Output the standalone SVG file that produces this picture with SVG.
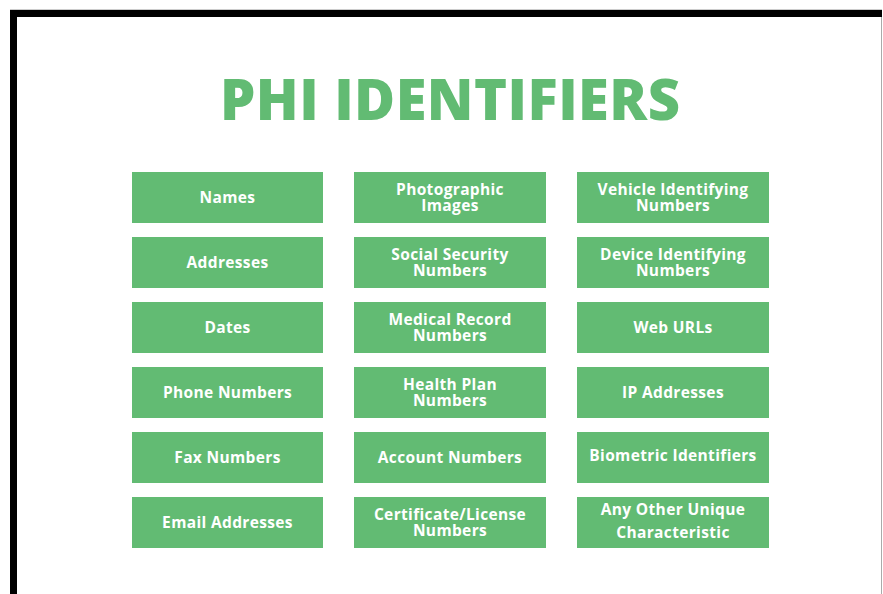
<svg xmlns="http://www.w3.org/2000/svg" width="883" height="594" viewBox="0 0 883 594">
<style>
.box{fill:#62bb73}
.t{font-family:"Open Sans","Liberation Sans",sans-serif;font-weight:700;font-size:15.5px;letter-spacing:0.35px;fill:#ffffff;text-anchor:middle}
.title{font-family:"Open Sans","Liberation Sans",sans-serif;font-weight:800;font-size:56px;fill:#62bb73;text-anchor:middle}
</style>
<rect x="0" y="0" width="883" height="594" fill="#ffffff"/>
<line x1="10" y1="9.5" x2="882" y2="9.5" stroke="#cccccc" stroke-width="1"/>
<rect x="10" y="10" width="872" height="7" fill="#000000"/>
<rect x="10" y="10" width="7" height="584" fill="#000000"/>
<line x1="881.5" y1="17" x2="881.5" y2="594" stroke="#aaaaaa" stroke-width="1"/>
<text class="title" x="450" y="120" textLength="460">PHI IDENTIFIERS</text>
<g id="names"><rect class="box" x="132" y="172" width="191" height="51"/><text class="t" x="227.5" y="203">Names</text></g>
<g id="addresses"><rect class="box" x="132" y="237" width="191" height="51"/><text class="t" x="227.5" y="268">Addresses</text></g>
<g id="dates"><rect class="box" x="132" y="302" width="191" height="51"/><text class="t" x="227.5" y="333">Dates</text></g>
<g id="phone"><rect class="box" x="132" y="367" width="191" height="51"/><text class="t" x="227.5" y="398">Phone Numbers</text></g>
<g id="fax"><rect class="box" x="132" y="432" width="191" height="51"/><text class="t" x="227.5" y="463">Fax Numbers</text></g>
<g id="email"><rect class="box" x="132" y="497" width="191" height="51"/><text class="t" x="227.5" y="528">Email Addresses</text></g>
<g id="photo"><rect class="box" x="354" y="172" width="192" height="51"/><text class="t"><tspan x="450" y="195">Photographic</tspan><tspan x="450" y="211">Images</tspan></text></g>
<g id="ssn"><rect class="box" x="354" y="237" width="192" height="51"/><text class="t"><tspan x="450" y="260">Social Security</tspan><tspan x="450" y="276">Numbers</tspan></text></g>
<g id="mrn"><rect class="box" x="354" y="302" width="192" height="51"/><text class="t"><tspan x="450" y="325">Medical Record</tspan><tspan x="450" y="341">Numbers</tspan></text></g>
<g id="health"><rect class="box" x="354" y="367" width="192" height="51"/><text class="t"><tspan x="450" y="390">Health Plan</tspan><tspan x="450" y="406">Numbers</tspan></text></g>
<g id="account"><rect class="box" x="354" y="432" width="192" height="51"/><text class="t" x="450" y="463">Account Numbers</text></g>
<g id="cert"><rect class="box" x="354" y="497" width="192" height="51"/><text class="t"><tspan x="450" y="520">Certificate/License</tspan><tspan x="450" y="536">Numbers</tspan></text></g>
<g id="vehicle"><rect class="box" x="577" y="172" width="192" height="51"/><text class="t"><tspan x="673" y="195">Vehicle Identifying</tspan><tspan x="673" y="211">Numbers</tspan></text></g>
<g id="device"><rect class="box" x="577" y="237" width="192" height="51"/><text class="t"><tspan x="673" y="260">Device Identifying</tspan><tspan x="673" y="276">Numbers</tspan></text></g>
<g id="web"><rect class="box" x="577" y="302" width="192" height="51"/><text class="t" x="673" y="333">Web URLs</text></g>
<g id="ip"><rect class="box" x="577" y="367" width="192" height="51"/><text class="t" x="673" y="398">IP Addresses</text></g>
<g id="bio"><rect class="box" x="577" y="432" width="192" height="51"/><text class="t" x="673" y="461">Biometric Identifiers</text></g>
<g id="other"><rect class="box" x="577" y="497" width="192" height="51"/><text class="t"><tspan x="673" y="515">Any Other Unique</tspan><tspan x="673" y="538">Characteristic</tspan></text></g>
<g id="connectors"></g>
</svg>
